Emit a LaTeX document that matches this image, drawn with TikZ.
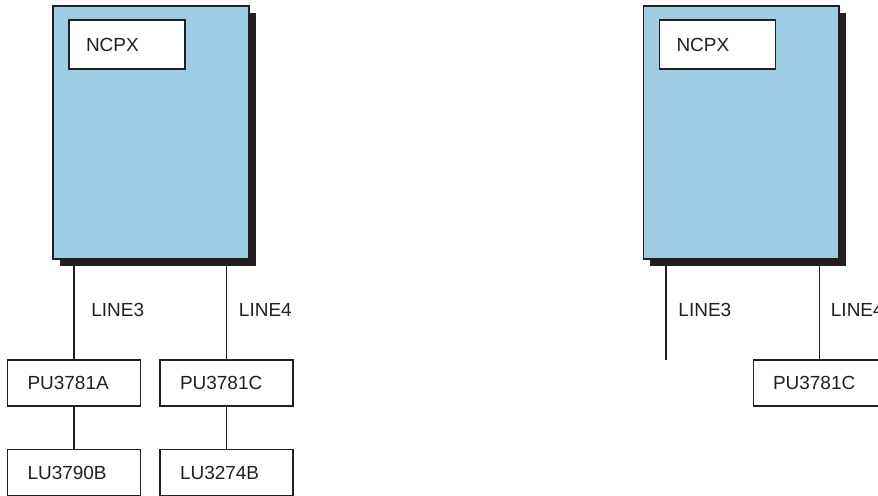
\documentclass[tikz,border=0pt]{standalone}
\usepackage{fontspec}
\setmainfont{Liberation Sans}
\usepackage{tikz}
\usetikzlibrary{shadows, backgrounds}

\definecolor{hostblue}{RGB}{158,204,226}
\definecolor{ink}{RGB}{35,31,32}

\tikzset{
  host/.style={draw=ink, fill=hostblue, line width=0.6pt, inner sep=0pt,
    minimum width=3.92cm, minimum height=5.06cm,
    drop shadow={shadow xshift=4pt, shadow yshift=-4pt, fill=ink, opacity=1}},
  tag/.style={draw=ink, fill=white, line width=0.6pt, text=ink, align=left,
    text width=1.64cm, inner xsep=0.34cm, minimum height=0.98cm},
  unit/.style={draw=ink, fill=white, line width=0.6pt, text=ink, align=left,
    text width=1.86cm, inner xsep=0.4cm, minimum height=0.92cm},
  wire/.style={draw=ink, line width=0.6pt},
  wirelabel/.style={text=ink, anchor=west, inner sep=0pt}
}

\begin{document}
\begin{tikzpicture}[x=0.02cm, y=-0.02cm, font=\fontsize{10.8}{13}\selectfont]
  \useasboundingbox (0,0) rectangle (878,496);
  \clip (0,0) rectangle (878,496);

  % Linker Teil
  \node[host] (lhost) at (151,132.5) {};
  \node[tag] (ltag) at (127,44.5) {NCPX};
  \node[unit] (lpua) at (74,383) {PU3781A};
  \node[unit] (lpuc) at (226.5,383) {PU3781C};
  \node[unit] (llub) at (74,472.5) {LU3790B};
  \node[unit] (lluc) at (226.5,472.5) {LU3274B};

  % Rechter Teil
  \node[host] (rhost) at (741,132.5) {};
  \node[tag] (rtag) at (717.5,44.5) {NCPX};
  \node[unit] (rpuc) at (819.5,383) {PU3781C};
  \coordinate (rend) at (666,360);

  % Leitungen
  \begin{pgfonlayer}{background}
    \draw[wire] (lhost.south -| lpua.north) -- node[wirelabel, midway, xshift=9.6pt] {LINE3} (lpua.north);
    \draw[wire] (lhost.south -| lpuc.north) -- node[wirelabel, midway, xshift=6.8pt] {LINE4} (lpuc.north);
    \draw[wire] (lpua) -- (llub);
    \draw[wire] (lpuc) -- (lluc);
    \draw[wire] (rhost.south -| rend) -- node[wirelabel, midway, xshift=6.8pt] {LINE3} (rend);
    \draw[wire] (rhost.south -| rpuc.north) -- node[wirelabel, midway, xshift=6.2pt] {LINE4} (rpuc.north);
  \end{pgfonlayer}
\end{tikzpicture}
\end{document}
